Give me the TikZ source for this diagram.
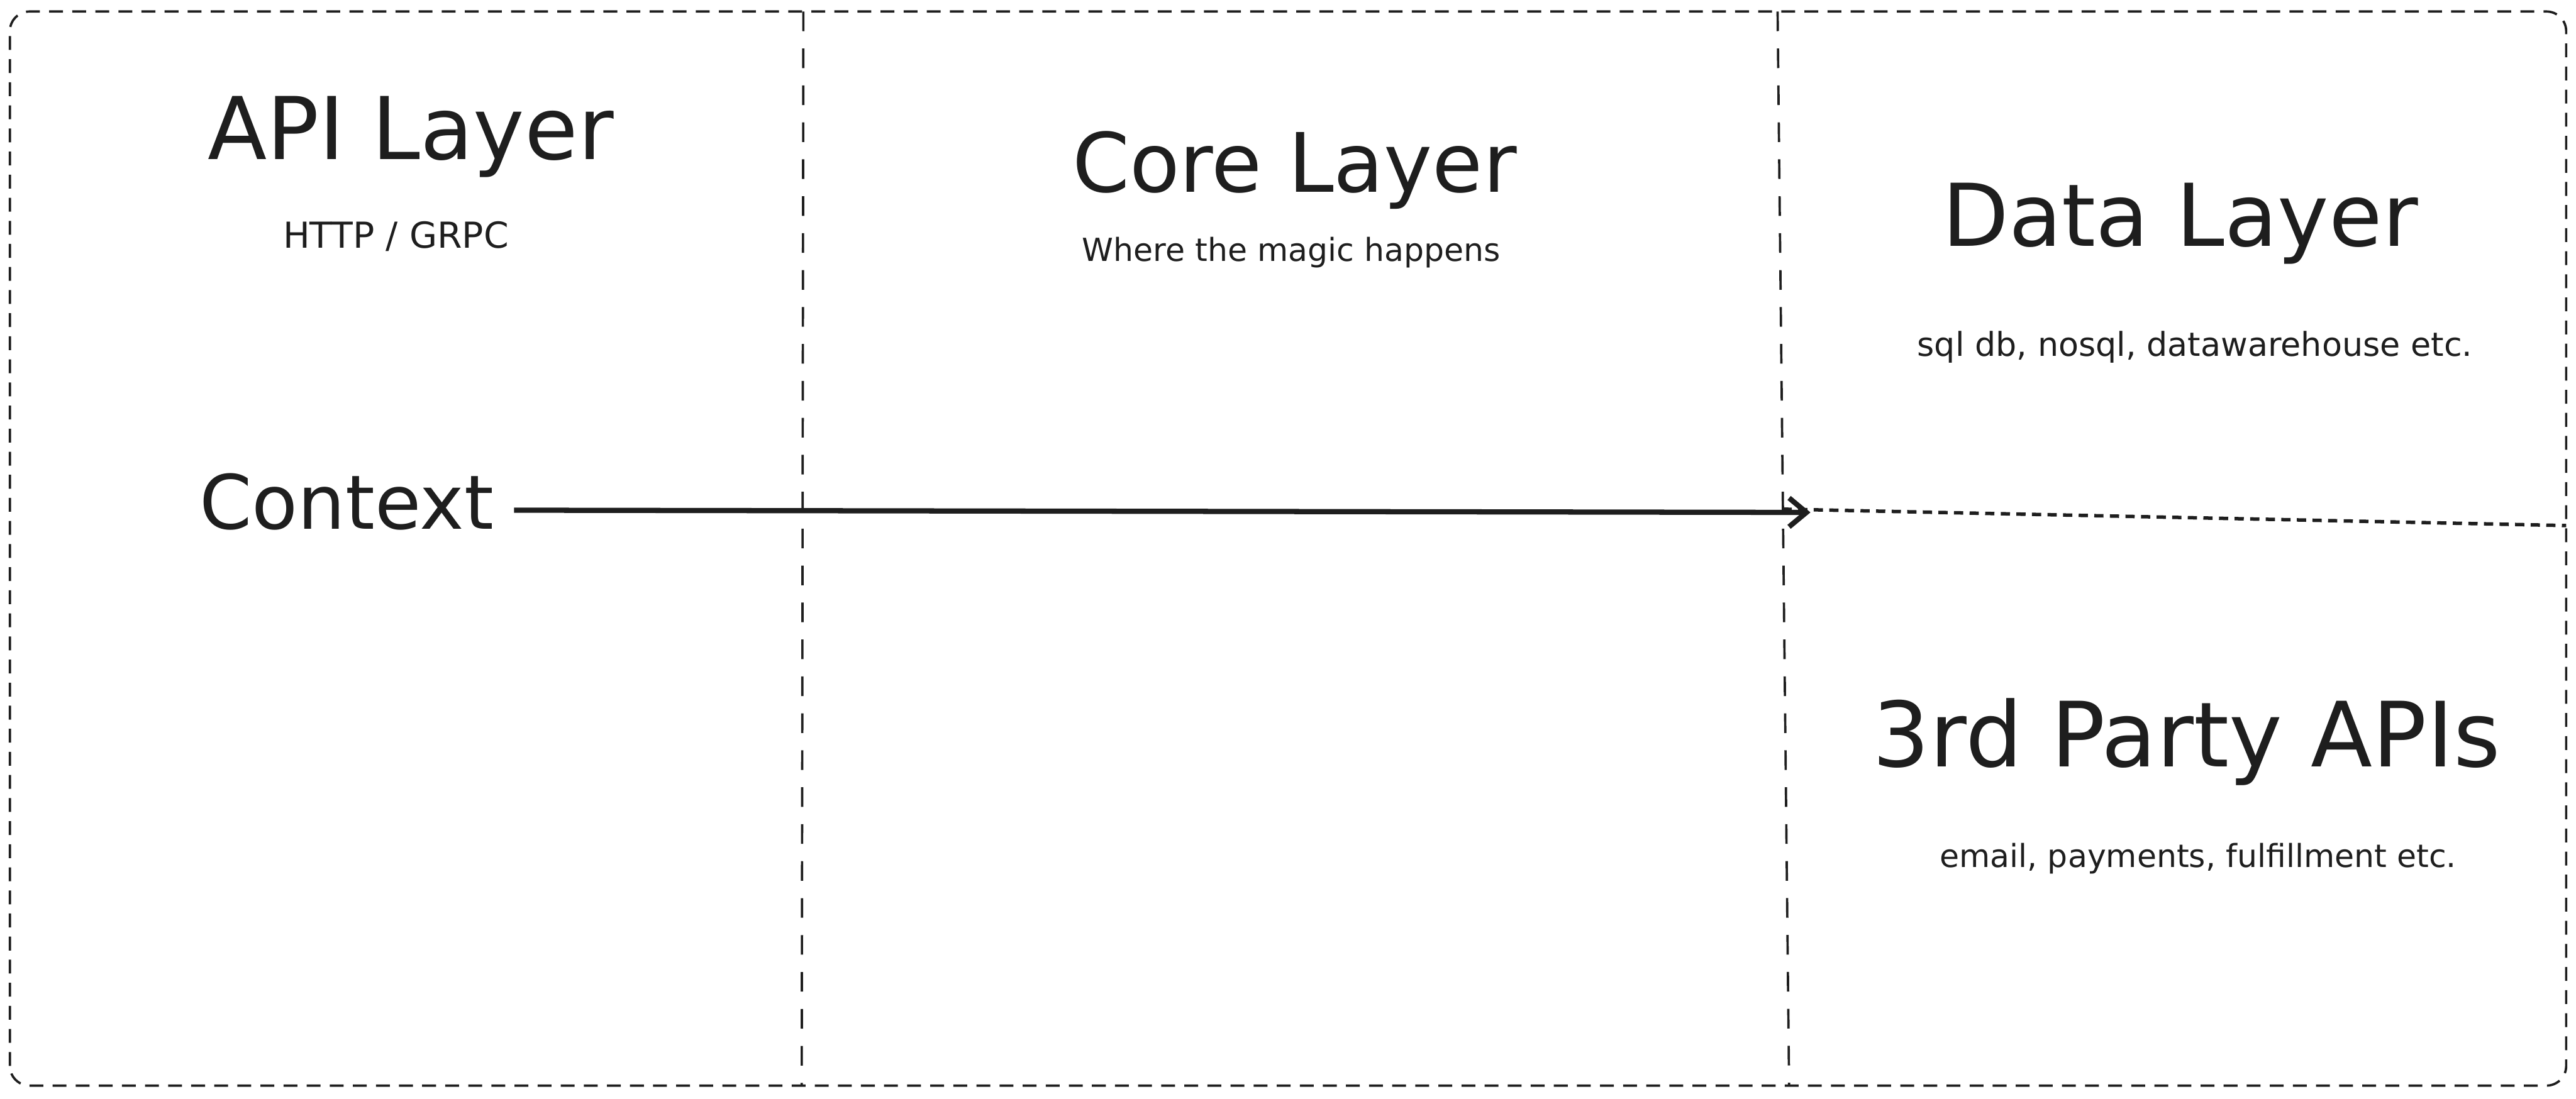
\documentclass[tikz,border=0pt]{standalone}
\usepackage{fontspec}
\setmainfont{DejaVu Sans}
\usepackage{tikz}
\usetikzlibrary{arrows.meta, positioning}
\definecolor{InkBlack}{HTML}{1E1E1E}

\begin{document}
\begin{tikzpicture}[
  title/.style={anchor=base, font=\fontsize{15}{18}\selectfont, text=InkBlack},
  sub/.style={anchor=base, font=\fontsize{5.5}{7}\selectfont, text=InkBlack},
  frame/.style={draw=InkBlack, line width=0.4pt, dash pattern=on 2.4pt off 1.6pt},
  divider/.style={draw=InkBlack, line width=0.4pt, dash pattern=on 3.4pt off 3pt},
  split/.style={draw=InkBlack, line width=0.6pt, dash pattern=on 1.6pt off 1.1pt},
  arr/.style={-{Straight Barb[length=3pt, width=5pt]}, line width=0.9pt, draw=InkBlack},
]
\useasboundingbox (0,0) rectangle (15.68,6.69);

% Frame and columns
\draw[frame, rounded corners=0.12cm] (0.06,0.08) rectangle (15.62,6.62);
\draw[divider] (4.89,6.62) -- (4.88,0.08);
\draw[divider] (10.82,6.62) -- (10.89,0.08);
\draw[split] (10.85,3.59) -- (15.62,3.49);

% API Layer
\node[title] (api) at (2.50,5.72) {API Layer};
\node[sub, font=\fontsize{6.2}{8}\selectfont] (apisub) at (2.41,5.18) {HTTP / GRPC};
\node[title, font=\fontsize{13}{16}\selectfont] (ctx) at (2.11,3.47) {Context};

% Core Layer
\node[title, font=\fontsize{14.2}{17}\selectfont] (core) at (7.88,5.52) {Core Layer};
\node[sub] (coresub) at (7.86,5.10) {Where the magic happens};

% Data Layer
\node[title] (data) at (13.27,5.19) {Data Layer};
\node[sub, font=\fontsize{5.7}{7}\selectfont] (datasub) at (13.36,4.52) {sql db, nosql, datawarehouse etc.};

% 3rd Party APIs
\node[title, font=\fontsize{15.6}{18}\selectfont] (ext) at (13.31,2.02) {3rd Party APIs};
\node[sub] (extsub) at (13.38,1.41) {email, payments, fulfillment etc.};

% Arrow
\coordinate (datain) at (11.02,3.57);
\draw[arr] ([yshift=-1.5pt]ctx.east) -- (datain);

\end{tikzpicture}
\end{document}
